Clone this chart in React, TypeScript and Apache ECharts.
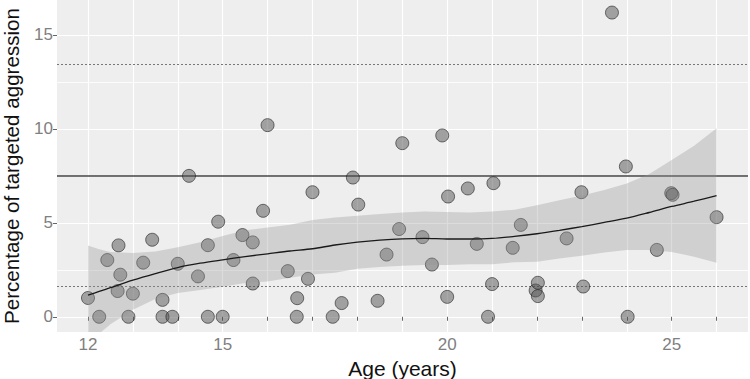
import React, { useEffect, useRef } from "react";
import * as echarts from "echarts";

// Scatter points: age (years) vs percentage of targeted aggression
const ageYears = [
  12.0, 12.25, 12.43, 12.68, 12.66, 12.72, 12.9, 13.0, 13.23, 13.43, 13.66, 13.66, 13.88, 14.0, 14.25, 14.45,
  14.67, 14.67, 14.9, 15.0, 15.24, 15.44, 15.67, 15.67, 15.9, 16.0, 16.45, 16.66, 16.65, 16.9, 17.0, 17.45,
  17.65, 17.9, 18.02, 18.45, 18.65, 18.93, 19.0, 19.45, 19.66, 19.89, 20.0, 20.02, 20.46, 20.66, 20.91, 21.0,
  21.03, 21.46, 21.64, 21.97, 22.02, 22.02, 22.66, 22.99, 23.03, 23.67, 23.98, 24.02, 24.67, 24.99, 25.02, 26.0,
];
const targetedAggression = [
  1.0, 0, 3.02, 3.8, 1.37, 2.24, 0, 1.23, 2.88, 4.1, 0.9, 0, 0, 2.82, 7.5, 2.15,
  3.81, 0, 5.06, 0, 3.02, 4.35, 3.96, 1.77, 5.64, 10.2, 2.43, 0.99, 0, 2.02, 6.63, 0,
  0.73, 7.41, 5.97, 0.85, 3.31, 4.67, 9.24, 4.24, 2.78, 9.65, 1.06, 6.4, 6.83, 3.88, 0, 1.74,
  7.11, 3.67, 4.89, 1.4, 1.81, 1.1, 4.17, 6.63, 1.61, 16.19, 8.0, 0, 3.56, 6.58, 6.49, 5.3,
];

// Smoothed (loess) fit and confidence band
const smoothAge = [12, 12.25, 12.5, 13, 13.5, 14, 14.5, 15, 15.5, 16, 16.5, 17, 17.5, 18, 18.5, 19, 19.5, 20, 20.5, 21, 21.5, 22, 22.5, 23, 23.5, 24, 24.5, 25, 25.5, 26];
const smoothFit = [1.15, 1.35, 1.55, 1.95, 2.3, 2.62, 2.85, 3.03, 3.2, 3.35, 3.5, 3.62, 3.82, 3.97, 4.08, 4.15, 4.17, 4.14, 4.14, 4.17, 4.28, 4.42, 4.6, 4.8, 5.02, 5.25, 5.55, 5.87, 6.15, 6.45];
const smoothUpper = [3.79, 3.6, 3.45, 3.39, 3.47, 3.7, 3.97, 4.3, 4.6, 4.75, 4.9, 5.15, 5.28, 5.38, 5.47, 5.55, 5.6, 5.58, 5.55, 5.6, 5.7, 5.93, 6.2, 6.45, 6.75, 7.1, 7.6, 8.35, 9.1, 10.04];
const smoothLower = [-1.35, -0.9, -0.4, 0.37, 0.95, 1.27, 1.42, 1.6, 1.8, 1.88, 2.08, 2.25, 2.35, 2.55, 2.65, 2.72, 2.75, 2.75, 2.8, 2.8, 2.9, 2.93, 3.1, 3.25, 3.42, 3.56, 3.55, 3.45, 3.2, 2.88];

// Reference lines
const meanValue = 7.52;
const sdBounds = [1.62, 13.42];

// Axis ticks
const xTickValues = [12, 13, 14, 15, 16, 17, 18, 19, 20, 21, 22, 23, 24, 25, 26];
const xLabelValues = [12, 15, 20, 25];
const yTickValues = [0, 5, 10, 15];
const yMinorValues = [2.5, 7.5, 12.5];

export default function App() {
  const ref = useRef<HTMLDivElement>(null);
  useEffect(() => {
    const chart = echarts.init(ref.current!, null, { renderer: "svg" });
    const font = "'Liberation Sans', Arial, sans-serif";
    chart.setOption({
      animation: false,
      grid: {
        left: 57,
        right: 2,
        top: 0,
        bottom: 47,
        show: true,
        backgroundColor: "#eeeeee",
        borderWidth: 0,
        containLabel: false,
        outerBoundsMode: "none",
      },
      xAxis: {
        type: "value",
        min: 11.31,
        max: 26.7,
        name: "Age (years)",
        nameLocation: "middle",
        nameGap: 24,
        nameTextStyle: { fontSize: 21, color: "#111", fontFamily: font },
        axisLine: { show: false },
        axisTick: { show: true, length: 4, customValues: xTickValues, lineStyle: { color: "#666", width: 1 } },
        axisLabel: { customValues: xLabelValues, fontSize: 17, color: "#808080", margin: 4, fontFamily: font },
        splitLine: { show: true, lineStyle: { color: "#ffffff", width: 1.2 } },
      },
      yAxis: {
        type: "value",
        min: -0.81,
        max: 16.86,
        name: "Percentage of targeted aggression",
        nameLocation: "middle",
        nameGap: 35,
        nameTextStyle: { fontSize: 20.6, color: "#111", fontFamily: font, lineHeight: 22 },
        axisLine: { show: false },
        axisTick: { show: true, length: 4, customValues: yTickValues, lineStyle: { color: "#666", width: 1 } },
        axisLabel: { customValues: yTickValues, fontSize: 17, color: "#808080", margin: 4, fontFamily: font },
        splitLine: { show: true, lineStyle: { color: "#ffffff", width: 1.2 } },
      },
      series: [
        {
          type: "scatter",
          z: 5,
          silent: true,
          symbolSize: 13,
          data: ageYears.map((x, i) => [x, targetedAggression[i]]),
          itemStyle: { color: "rgba(80,80,80,0.62)", borderColor: "rgba(30,30,30,0.75)", borderWidth: 1 },
          markLine: {
            z: 3,
            silent: true,
            symbol: ["none", "none"],
            label: { show: false },
            emphasis: { disabled: true },
            data: [
              { yAxis: meanValue, lineStyle: { type: "solid", color: "#444", width: 1.5 } },
              ...sdBounds.map((v) => ({ yAxis: v, lineStyle: { type: [2, 2], color: "#777", width: 1 } })),
            ],
          },
        },
        {
          type: "custom",
          z: 7,
          silent: true,
          data: smoothAge.map((x, i) => [x, smoothLower[i], smoothUpper[i]]),
          encode: { x: 0, y: [1, 2] },
          renderItem: (params: any, api: any) => {
            if (params.dataIndex !== 0) return null;
            const pts: number[][] = [];
            for (let i = 0; i < smoothAge.length; i++) pts.push(api.coord([smoothAge[i], smoothUpper[i]]));
            for (let i = smoothAge.length - 1; i >= 0; i--) pts.push(api.coord([smoothAge[i], smoothLower[i]]));
            const cs = params.coordSys;
            return {
              type: "polygon",
              shape: { points: pts },
              style: { fill: "rgba(150,150,150,0.33)", stroke: "none" },
              clipPath: { type: "rect", shape: { x: cs.x, y: cs.y, width: cs.width, height: cs.height } },
            };
          },
        },
        {
          type: "line",
          z: 8,
          silent: true,
          symbol: "none",
          smooth: 0.3,
          data: smoothAge.map((x, i) => [x, smoothFit[i]]),
          lineStyle: { color: "#1a1a1a", width: 1.3 },
          markLine: {
            z: 1,
            silent: true,
            symbol: ["none", "none"],
            label: { show: false },
            emphasis: { disabled: true },
            data: yMinorValues.map((v) => ({ yAxis: v, lineStyle: { type: "solid", color: "#ffffff", width: 0.8 } })),
          },
        },
      ],
    });
    return () => chart.dispose();
  }, []);
  return <div ref={ref} style={{ position: "absolute", left: 0, top: 0, width: 750, height: 379 }} />;
}
